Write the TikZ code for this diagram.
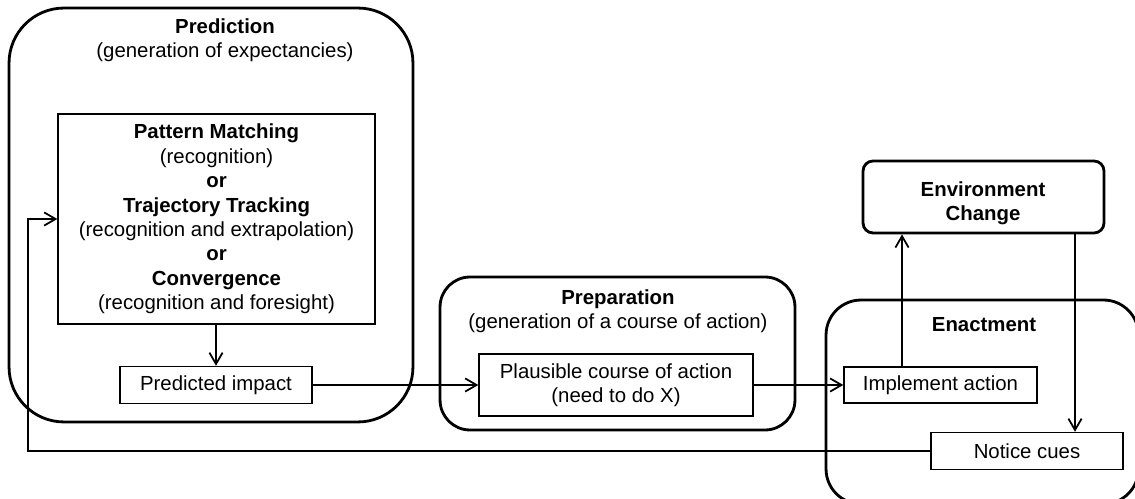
\documentclass[tikz,border=0pt]{standalone}
\usepackage{fontspec}
\setmainfont{Liberation Sans}
\usetikzlibrary{arrows.meta,calc}

\begin{document}
\begin{tikzpicture}[
    x=0.02cm, y=-0.02cm,
    >={Straight Barb[length=6.5pt,width=7.5pt]},
    every node/.style={font=\fontsize{11.6}{13.9}\selectfont},
    stage/.style={draw, line width=1.6pt, rounded corners=0.6cm,
                  inner sep=0pt},
    task/.style={draw, line width=0.8pt, fill=white, align=center,
                 inner sep=0pt},
    ttl/.style={align=center},
    link/.style={->, line width=1pt},
]
\clip (0,0) rectangle (1135,499);

% Stage boxes
\node[stage, rounded corners=1.1cm, minimum width=8.08cm,
      minimum height=8.28cm] (pred) at (211,215) {};
\node[stage, minimum width=7.1cm, minimum height=3.06cm] (prep) at (617.5,353.5) {};
\node[stage, rounded corners=0.2cm, minimum width=4.82cm,
      minimum height=1.44cm] (env) at (983.5,197) {};
\node[stage, rounded corners=0.7cm, minimum width=6.25cm,
      minimum height=4.08cm] (enact) at (982.25,402) {};

% Stage titles
\node[ttl] (predttl) at (225,40) {\textbf{Prediction}\\(generation of expectancies)};
\node[ttl] (prepttl) at (618,311) {\textbf{Preparation}\\(generation of a course of action)};
\node[ttl] (envttl) at (983,203) {\textbf{Environment}\\\textbf{Change}};
\node[ttl] (enactttl) at (984,325) {\textbf{Enactment}};

% Task boxes
\node[task, minimum width=6.34cm, minimum height=4.2cm] (match) at (216.5,219)
    {\textbf{Pattern Matching}\\(recognition)\\\textbf{or}\\
     \textbf{Trajectory Tracking}\\(recognition and extrapolation)\\\textbf{or}\\
     \textbf{Convergence}\\(recognition and foresight)};
\node[task, minimum width=3.84cm, minimum height=0.74cm] (impact) at (216,385) {Predicted impact};
\node[task, minimum width=5.48cm, minimum height=1.24cm] (plaus) at (616,385)
    {Plausible course of action\\(need to do X)};
\node[task, minimum width=3.86cm, minimum height=0.72cm] (impl) at (940.5,385) {Implement action};
\node[task, minimum width=3.84cm, minimum height=0.74cm] (notice) at (1027,451) {Notice cues};

% Connectors
\coordinate (upx) at (902,0);
\coordinate (downx) at (1075,0);
\coordinate (backx) at (28,0);
\draw[link] (match.south -| impact) -- (impact.north);
\draw[link] (impact) -- (plaus);
\draw[link] (plaus) -- (impl);
\draw[link] (impl.north -| upx) -- (env.south -| upx);
\draw[link] (env.south -| downx) -- (notice.north -| downx);
\draw[link] (notice.west) -- (notice.west -| backx) |- (match.west);
\end{tikzpicture}
\end{document}
